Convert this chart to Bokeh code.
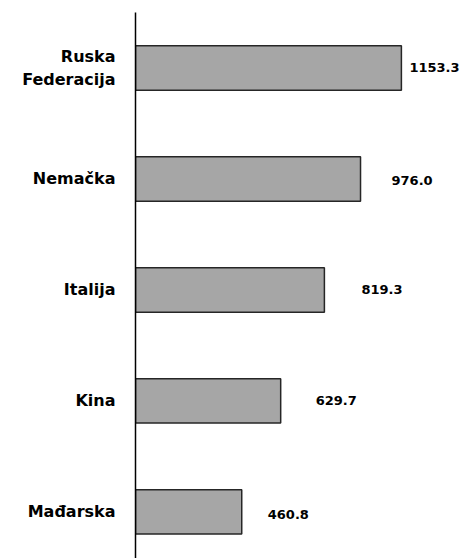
from bokeh.plotting import figure
from bokeh.models import ColumnDataSource, Range1d, FixedTicker
from bokeh.core.properties import value
from bokeh.embed import file_html
from bokeh.resources import INLINE

countries = ["Ruska\nFederacija", "Nemačka", "Italija", "Kina", "Mađarska"]
values = [1153.3, 976.0, 819.3, 629.7, 460.8]
value_labels = ["1153.3", "976.0", "819.3", "629.7", "460.8"]

positions = list(range(len(countries)))
label_dx = [8, 31, 37, 35, 26]      # pixel offsets of the value labels
label_dy = [0, 2, 0, 0, 3]

src = ColumnDataSource(dict(y=positions, v=values, lab=value_labels,
                            dx=label_dx, dy=label_dy))

p = figure(width=470, height=558, output_backend="svg", toolbar_location=None,
           x_range=Range1d(0, 1453), y_range=Range1d(4.42, -0.5),
           min_border_left=135, min_border_right=0, min_border_top=12,
           min_border_bottom=0)
p.outline_line_color = None
p.xgrid.visible = False
p.ygrid.visible = False
p.xaxis.visible = False
p.background_fill_color = "white"
p.border_fill_color = "white"

p.hbar(y="y", right="v", left=0, height=0.4, source=src,
       fill_color="#a6a6a6", line_color="#262626", line_width=1.5)

p.text(x="v", y="y", text="lab", source=src, x_offset="dx", y_offset="dy",
       text_font=value("DejaVu Sans"), text_font_style="bold",
       text_font_size="13px", text_baseline="middle", text_align="left",
       text_color="black")

ax = p.yaxis[0]
ax.ticker = FixedTicker(ticks=positions)
ax.major_label_overrides = {i: c for i, c in zip(positions, countries)}
ax.major_tick_line_color = None
ax.minor_tick_line_color = None
ax.major_label_standoff = 14
ax.major_label_text_font = "DejaVu Sans"
ax.major_label_text_font_style = "bold"
ax.major_label_text_font_size = "16px"
ax.major_label_text_color = "black"
ax.axis_line_color = "black"
ax.axis_line_width = 1.5

open("out.html", "w").write(file_html(p, INLINE))
